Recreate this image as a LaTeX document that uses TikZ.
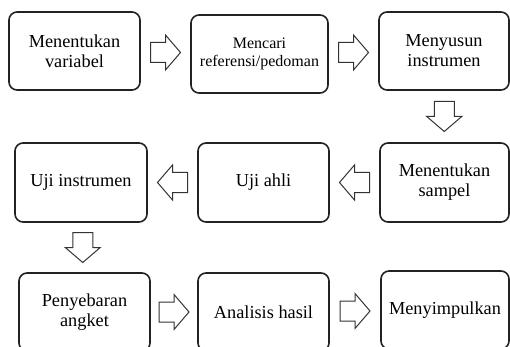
\documentclass[tikz,border=0pt]{standalone}
\usepackage{fontspec}
\setmainfont{Liberation Serif}
\usetikzlibrary{calc}
\definecolor{lineBox}{RGB}{34,34,34}
\definecolor{lineArrow}{RGB}{51,51,51}
\tikzset{
  stepNode/.style={
    rounded corners=8pt,
    draw=lineBox,
    line width=1.6pt,
    align=center,
    inner sep=0pt,
    minimum width=131pt,
    minimum height=78pt,
    font=\fontsize{18.3}{20}\selectfont
  },
  smallStep/.style={stepNode, minimum width=137pt, font=\fontsize{16}{18.5}\selectfont},
  blockArrow/.pic={
    \draw[lineArrow, line width=1pt, fill=white]
      (-15,-10) -- (0,-10) -- (0,-17.5) -- (15,0) -- (0,17.5) -- (0,10) -- (-15,10) -- cycle;
  }
}

\begin{document}
\begin{tikzpicture}[x=1pt, y=-1pt]
  \useasboundingbox (0,0) rectangle (510,347);

  % row 1
  \node[stepNode] (variabel) at (74.5,51) {Menentukan\\variabel};
  \node[smallStep] (referensi) at (259.5,54) {Mencari\\referensi/pedoman};
  \node[stepNode, minimum width=130pt] (susun) at (444,51) {Menyusun\\instrumen};

  % row 2
  \node[stepNode, minimum width=132pt, minimum height=79pt] (ujiins) at (81,182.5) {Uji instrumen};
  \node[stepNode, minimum height=79pt] (ahli) at (263.5,182.5) {Uji ahli};
  \node[stepNode, minimum width=129pt, minimum height=79pt] (sampel) at (444.5,182.5) {Menentukan\\sampel};

  % row 3
  \node[stepNode] (sebar) at (84.5,312) {Penyebaran\\angket};
  \node[stepNode] (analisis) at (263.5,312) {Analisis hasil};
  \node[stepNode, minimum width=128pt] (simpul) at (445,310) {Menyimpulkan};

  % block arrows
  \pic (a1) at ($(variabel.east)!0.5!(referensi.west)$) {blockArrow};
  \pic (a2) at ($(referensi.east)!0.5!(susun.west)$) {blockArrow};
  \pic[rotate=-90] (a3) at ($(susun.south)!0.5!(sampel.north)$) {blockArrow};
  \pic[rotate=180] (a4) at ($(sampel.west)!0.5!(ahli.east)$) {blockArrow};
  \pic[rotate=180] (a5) at ($(ahli.west)!0.5!(ujiins.east)$) {blockArrow};
  \pic[rotate=-90] (a6) at ($(ujiins.south)!0.5!(sebar.north)$) {blockArrow};
  \pic (a7) at ($(sebar.east)!0.5!(analisis.west)$) {blockArrow};
  \pic (a8) at ($(analisis.east)!0.5!(simpul.west)$) {blockArrow};
\end{tikzpicture}
\end{document}
